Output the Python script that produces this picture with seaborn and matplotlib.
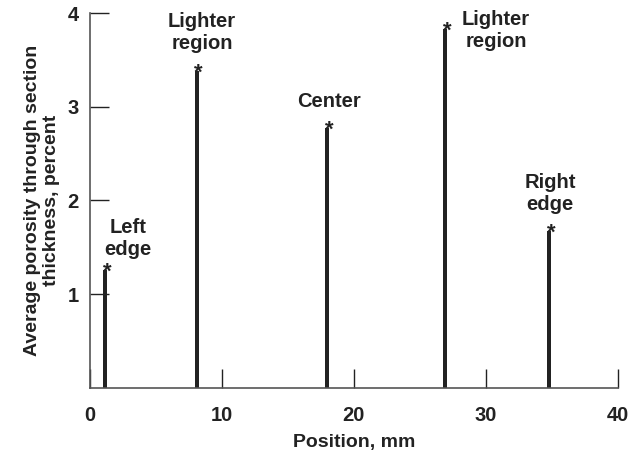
import matplotlib
matplotlib.use("Agg")
import matplotlib.pyplot as plt
import seaborn as sns
import pandas as pd

positions = [1.14, 8.08, 17.98, 26.9, 34.8]
porosity = [1.26, 3.38, 2.77, 3.83, 1.67]
labels = ["Left\nedge", "Lighter\nregion", "Center", "Lighter\nregion", "Right\nedge"]
label_x = [2.88, 8.49, 18.12, 30.78, 34.87]
label_y = [1.81, 4.01, 3.16, 4.04, 2.29]
xticks = [0, 10, 20, 30, 40]
yticks = [1, 2, 3, 4]

sns.set_theme(style="ticks")
plt.rcParams['font.family'] = ['Liberation Sans', 'DejaVu Sans']
plt.rcParams['font.weight'] = 'bold'

ink = "#222222"
fig = plt.figure(figsize=(6.44, 4.58), dpi=100)
ax = fig.add_axes([0.1398, 0.1535, 0.8194, 0.8175])

df = pd.DataFrame({"pos": positions, "val": porosity})
sns.barplot(data=df, x="pos", y="val", native_scale=True, color=ink,
            width=0.045, saturation=1, ax=ax, linewidth=0)

for x, y in zip(positions, porosity):
    ax.annotate("*", (x, y), xytext=(1.5, -5.5), textcoords="offset points",
                ha="center", va="baseline", fontsize=16, fontweight="bold",
                color=ink, annotation_clip=False)

for x, y, t in zip(label_x, label_y, labels):
    ax.text(x, y, t, ha="center", va="top", fontsize=14.5, fontweight="bold",
            color=ink, linespacing=1.2, clip_on=False)

ax.set_xlim(0, 40)
ax.set_ylim(0, 4)
ax.set_xticks(xticks)
ax.set_yticks(yticks)
ax.tick_params(direction="in", length=14, width=1, color=ink, labelsize=14.5,
               labelcolor=ink)
ax.tick_params(axis="x", pad=13)
ax.tick_params(axis="y", pad=8)
for lab in ax.get_xticklabels() + ax.get_yticklabels():
    lab.set_fontweight("bold")

for s in ["top", "right"]:
    ax.spines[s].set_visible(False)
for s in ["left", "bottom"]:
    ax.spines[s].set_color("#555555")
    ax.spines[s].set_linewidth(1.2)

ax.set_xlabel("Position, mm", fontsize=14, fontweight="bold", color=ink)
ax.set_ylabel("Average porosity through section\nthickness, percent",
              fontsize=14, fontweight="bold", color=ink, linespacing=1.15)
ax.xaxis.set_label_coords(0.5, -0.125)
ax.yaxis.set_label_coords(-0.057, 0.5)

fig.savefig("out.png", dpi=100)
